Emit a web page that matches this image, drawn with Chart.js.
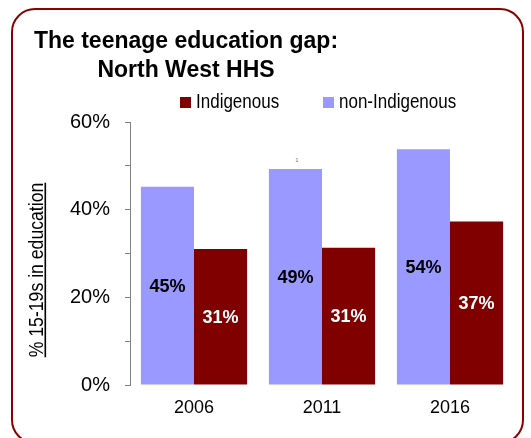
<!DOCTYPE html>
<html>
<head>
<meta charset="utf-8">
<script src="https://cdn.jsdelivr.net/npm/chart.js@4"></script>
<style>
  html, body { margin: 0; padding: 0; background: #fff; overflow: hidden; }
  #wrap { position: relative; width: 531px; height: 438px; overflow: hidden; }
  #frame { position: absolute; left: 11px; top: 8px; width: 509px; height: 432px;
           border: 2.5px solid #8b0000; border-radius: 24px; }
  canvas { position: absolute; left: 0; top: 0; }
</style>
</head>
<body>
<div id="wrap">
  <div id="frame"></div>
  <canvas id="chart" width="531" height="438"></canvas>
</div>
<script>
// data
const years = ["2006", "2011", "2016"];
const nonIndigenous = [45.2, 49.3, 53.8];
const indigenous = [31.0, 31.3, 37.3];
const seriesNames = ["non-Indigenous", "Indigenous"];
const seriesColors = ["#9999ff", "#800000"];
const labelColors = ["#000000", "#ffffff"];
const titleLines = ["The teenage education gap:", "North West HHS"];
const yTitle = "% 15-19s in education";
const yTicks = [0, 20, 40, 60];

const FONT = "'Liberation Sans', Arial, sans-serif";

// title, legend, axis title and bar labels
const decor = {
  id: "decor",
  afterDatasetsDraw(chart) {
    const ctx = chart.ctx;
    ctx.save();

    // title
    ctx.fillStyle = "#000";
    ctx.textAlign = "center";
    ctx.textBaseline = "alphabetic";
    ctx.font = "bold 23px " + FONT;
    ctx.fillText(titleLines[0], 186, 48);
    ctx.fillText(titleLines[1], 186, 77);

    // legend (Indigenous first, like the original)
    const legendX = [180, 323];
    [1, 0].forEach((di, i) => {
      const ds = chart.data.datasets[di];
      ctx.fillStyle = ds.backgroundColor;
      ctx.fillRect(legendX[i], 97, 11, 11);
      ctx.save();
      ctx.translate(legendX[i] + 16, 108);
      ctx.scale(0.85, 1);
      ctx.fillStyle = "#000";
      ctx.textAlign = "left";
      ctx.font = "20px " + FONT;
      ctx.fillText(ds.label, 0, 0);
      ctx.restore();
    });

    // y axis title, underlined
    ctx.save();
    ctx.translate(43, 270);
    ctx.rotate(-Math.PI / 2);
    ctx.scale(0.84, 1);
    ctx.fillStyle = "#000";
    ctx.textAlign = "center";
    ctx.font = "21px " + FONT;
    ctx.fillText(yTitle, 0, 0);
    const w = ctx.measureText(yTitle).width;
    ctx.fillRect(-w / 2, 1.5, w, 1.6);
    ctx.restore();

    // value labels inside the bars
    ctx.font = "bold 18px " + FONT;
    ctx.textAlign = "center";
    ctx.textBaseline = "middle";
    chart.data.datasets.forEach((ds, di) => {
      chart.getDatasetMeta(di).data.forEach((bar, i) => {
        ctx.fillStyle = labelColors[di];
        ctx.fillText(Math.round(ds.data[i]) + "%", bar.x, (bar.y + bar.base) / 2 + 1);
      });
    });

    // stray mark above the 2011 bar
    ctx.font = "6px " + FONT;
    ctx.fillStyle = "#777";
    ctx.fillText("1", 297, 160);

    ctx.restore();
  }
};

new Chart(document.getElementById("chart"), {
  type: "bar",
  data: {
    labels: years,
    datasets: [
      { label: seriesNames[0], data: nonIndigenous, backgroundColor: seriesColors[0] },
      { label: seriesNames[1], data: indigenous, backgroundColor: seriesColors[1] }
    ]
  },
  options: {
    responsive: false,
    animation: false,
    layout: { padding: { top: 122, right: 17, bottom: 0, left: 0 } },
    datasets: { bar: { categoryPercentage: 0.83, barPercentage: 1.0 } },
    plugins: { legend: { display: false }, tooltip: { enabled: false } },
    scales: {
      x: {
        grid: { display: false, drawTicks: false },
        border: { display: false },
        ticks: { color: "#000", padding: 12, font: { family: FONT, size: 18 } },
        afterFit: s => { s.height = 53; }
      },
      y: {
        min: 0, max: 60,
        grid: { drawOnChartArea: false, drawTicks: true, tickLength: 5, color: "#808080" },
        border: { display: true, color: "#808080", width: 1 },
        ticks: {
          stepSize: 10,
          padding: 15,
          color: "#000",
          font: { family: FONT, size: 20 },
          callback: v => yTicks.includes(v) ? v + "%" : ""
        },
        afterFit: s => { s.width = 130; }
      }
    }
  },
  plugins: [decor]
});
</script>
</body>
</html>
